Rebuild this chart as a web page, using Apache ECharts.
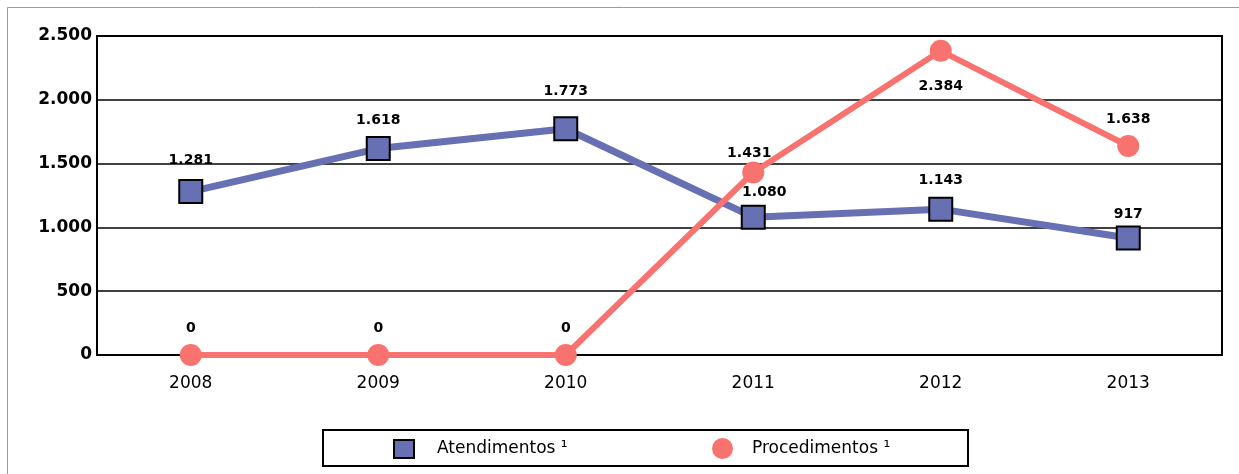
<!DOCTYPE html>
<html>
<head>
<meta charset="utf-8">
<script src="https://cdn.jsdelivr.net/npm/echarts@6/dist/echarts.min.js"></script>
<style>
html,body{margin:0;padding:0;background:#fff;}
#chart{width:1239px;height:474px;}
</style>
</head>
<body>
<div id="chart"></div>
<script>
var categories = ['2008','2009','2010','2011','2012','2013'];
var atendimentos = [1281, 1618, 1773, 1080, 1143, 917];
var procedimentos = [0, 0, 0, 1431, 2384, 1638];
var yTickLabels = ['0','500','1.000','1.500','2.000','2.500'];
var seriesNames = ['Atendimentos \u00b9', 'Procedimentos \u00b9'];

function fmt(v){ return String(v).replace(/\B(?=(\d{3})+(?!\d))/g, '.'); }

var FONT = 'DejaVu Sans';
var blue = '#6670B2';
var red = '#F8736F';

var labelBase = {
  show: true, position: 'top', distance: 9,
  color: '#000', fontFamily: FONT, fontSize: 14, fontWeight: 'bold',
  formatter: function(p){ return fmt(p.value); }
};

var procLabelTweaks = { 3: { distance: 1, offset: [-4, 0] }, 4: { position: 'bottom', distance: 18 } };
var atendLabelTweaks = { 0: { distance: 12 }, 2: { distance: 18 }, 3: { distance: 5, offset: [11, 0] }, 5: { distance: 4 } };

function build(values, tweaks){
  return values.map(function(v, i){
    return tweaks[i] ? { value: v, label: tweaks[i] } : v;
  });
}

var chart = echarts.init(document.getElementById('chart'));
chart.setOption({
  animation: false,
  backgroundColor: '#fff',
  graphic: [
    { type: 'rect', shape: { x: 7.5, y: 7.5, width: 1240, height: 480 },
      style: { fill: 'none', stroke: '#9a9a9a', lineWidth: 1 }, z: -10 },
    { type: 'rect', shape: { x: 323, y: 430, width: 645, height: 36 },
      style: { fill: 'none', stroke: '#000', lineWidth: 2 } }
  ],
  legend: [
    { data: [{ name: seriesNames[0], icon: 'rect',
               itemStyle: { color: blue, borderColor: '#000', borderWidth: 2 } }],
      left: 393, top: 439, itemWidth: 20, itemHeight: 18, padding: 0,
      textStyle: { fontFamily: FONT, fontSize: 17, color: '#000', padding: [0,0,0,18] } },
    { data: [{ name: seriesNames[1], icon: 'circle', itemStyle: { color: red } }],
      left: 712, top: 438, itemWidth: 21, itemHeight: 21, padding: 0,
      textStyle: { fontFamily: FONT, fontSize: 17, color: '#000', padding: [0,0,0,14] } }
  ],
  grid: { left: 97, right: 17, top: 36, bottom: 119, show: true,
          borderColor: '#000', borderWidth: 2 },
  xAxis: {
    type: 'category', data: categories, boundaryGap: true,
    axisLine: { lineStyle: { color: '#000', width: 2 } },
    axisTick: { show: false },
    axisLabel: { margin: 20, color: '#000', fontFamily: FONT, fontSize: 17 }
  },
  yAxis: {
    type: 'value', min: 0, max: 2500, interval: 500,
    axisLine: { show: false }, axisTick: { show: false },
    splitLine: { lineStyle: { color: '#000', width: 1.5 } },
    axisLabel: { margin: 5, color: '#000', fontFamily: FONT, fontSize: 17, fontWeight: 'bold',
      formatter: function(v){ return yTickLabels[Math.round(v / 500)]; } }
  },
  series: [
    { name: seriesNames[0], type: 'line', data: build(atendimentos, atendLabelTweaks),
      symbol: 'rect', symbolSize: 23,
      lineStyle: { color: blue, width: 7 },
      itemStyle: { color: blue, borderColor: '#000', borderWidth: 2 },
      label: labelBase, z: 2 },
    { name: seriesNames[1], type: 'line', data: build(procedimentos, procLabelTweaks),
      symbol: 'circle', symbolSize: 22,
      lineStyle: { color: red, width: 6 },
      itemStyle: { color: red, borderWidth: 0 },
      label: labelBase, z: 3 }
  ]
});
</script>
</body>
</html>
